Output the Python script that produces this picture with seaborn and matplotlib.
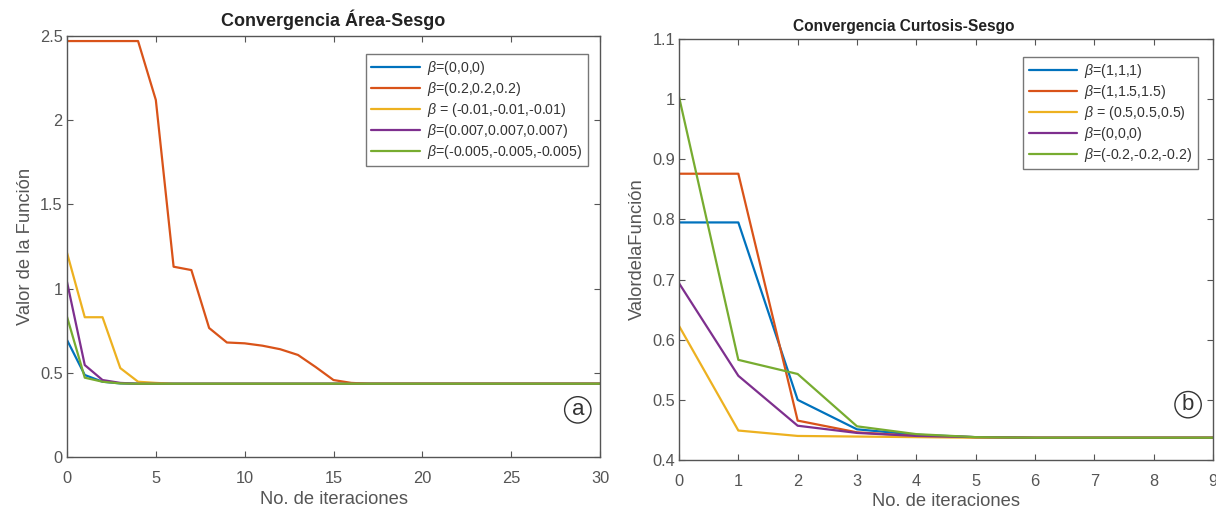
import numpy as np
import pandas as pd
import matplotlib
matplotlib.use("Agg")
import matplotlib.pyplot as plt
import seaborn as sns

# ---------------- data ----------------
iters_a = list(range(0, 31))
a_beta_000 = [0.695, 0.487, 0.447, 0.437] + [0.435] * 27
a_beta_02 = [2.47, 2.47, 2.47, 2.47, 2.47, 2.12, 1.13, 1.11, 0.766, 0.68,
             0.675, 0.661, 0.64, 0.606, 0.534, 0.457, 0.44] + [0.435] * 14
a_beta_m001 = [1.213, 0.83, 0.83, 0.528, 0.447, 0.44] + [0.435] * 25
a_beta_0007 = [1.04, 0.546, 0.457, 0.44] + [0.435] * 27
a_beta_m0005 = [0.833, 0.471, 0.447, 0.437] + [0.435] * 27
labels_a = [r"$\beta$=(0,0,0)", r"$\beta$=(0.2,0.2,0.2)",
            r"$\beta$ = (-0.01,-0.01,-0.01)", r"$\beta$=(0.007,0.007,0.007)",
            r"$\beta$=(-0.005,-0.005,-0.005)"]

iters_b = list(range(0, 10))
b_beta_111 = [0.795, 0.795, 0.500, 0.451, 0.442, 0.438, 0.437, 0.437, 0.437, 0.437]
b_beta_1_15 = [0.876, 0.876, 0.4655, 0.446, 0.44, 0.438, 0.437, 0.437, 0.437, 0.437]
b_beta_05 = [0.623, 0.449, 0.440, 0.439, 0.438, 0.437, 0.437, 0.437, 0.437, 0.437]
b_beta_000 = [0.694, 0.540, 0.457, 0.445, 0.44, 0.438, 0.437, 0.437, 0.437, 0.437]
b_beta_m02 = [1.004, 0.5665, 0.543, 0.456, 0.443, 0.438, 0.437, 0.437, 0.437, 0.437]
labels_b = [r"$\beta$=(1,1,1)", r"$\beta$=(1,1.5,1.5)", r"$\beta$ = (0.5,0.5,0.5)",
            r"$\beta$=(0,0,0)", r"$\beta$=(-0.2,-0.2,-0.2)"]

colors = ["#0072BD", "#D95319", "#EDB120", "#7E2F8E", "#77AC30"]

# ---------------- style ----------------
sns.set_theme(style="white")
plt.rcParams["font.family"] = ["Liberation Sans", "DejaVu Sans"]
plt.rcParams["mathtext.fontset"] = "custom"
plt.rcParams["mathtext.it"] = "Liberation Sans:italic"
plt.rcParams["mathtext.rm"] = "Liberation Sans"

gray = "#555555"

fig = plt.figure(figsize=(12.16, 5.11), dpi=100)
W, H = 1216, 511
ax1 = fig.add_axes([67 / W, 1 - 457 / H, (600 - 67) / W, (457 - 36) / H])
ax2 = fig.add_axes([679 / W, 1 - 460 / H, (1213 - 679) / W, (460 - 39) / H])


def long_df(x, series, labels):
    rows = []
    for s, lab in zip(series, labels):
        for xi, yi in zip(x, s):
            rows.append({"it": xi, "val": yi, "serie": lab})
    return pd.DataFrame(rows)


df_a = long_df(iters_a, [a_beta_000, a_beta_02, a_beta_m001, a_beta_0007, a_beta_m0005], labels_a)
df_b = long_df(iters_b, [b_beta_111, b_beta_1_15, b_beta_05, b_beta_000, b_beta_m02], labels_b)

sns.lineplot(data=df_a, x="it", y="val", hue="serie", palette=colors, ax=ax1,
             linewidth=1.6, hue_order=labels_a)
sns.lineplot(data=df_b, x="it", y="val", hue="serie", palette=colors, ax=ax2,
             linewidth=1.6, hue_order=labels_b)


def style_axes(ax):
    for sp in ax.spines.values():
        sp.set_visible(True)
        sp.set_color(gray)
        sp.set_linewidth(1.0)
    ax.tick_params(direction="in", length=4, width=0.8, color=gray,
                   labelcolor=gray, labelsize=11.8, top=True, right=True,
                   bottom=True, left=True)
    ax.tick_params(axis="x", pad=10)
    ax.tick_params(axis="y", pad=3)


def fmt(v):
    return f"{v:g}"


# Left axes
ax1.set_xlim(0, 30)
ax1.set_ylim(0, 2.5)
ax1.set_xticks([0, 5, 10, 15, 20, 25, 30])
yt1 = [0, 0.5, 1, 1.5, 2, 2.5]
ax1.set_yticks(yt1)
ax1.set_yticklabels([fmt(v) for v in yt1])
ax1.set_xlabel("No. de iteraciones", fontsize=13.2, color=gray, labelpad=4)
ax1.set_ylabel("Valor de la Función", fontsize=13.2, color=gray, labelpad=4)
ax1.set_title("Convergencia Área-Sesgo", fontsize=13, fontweight="bold", pad=7,
              color="#222222")
style_axes(ax1)
leg1 = ax1.legend(loc="upper right", fontsize=10.2, frameon=True, fancybox=False,
                  edgecolor=gray, handlelength=3.4, borderpad=0.4,
                  labelspacing=0.2, handletextpad=0.5,
                  bbox_to_anchor=(0.99, 0.975))
for t in leg1.get_texts():
    t.set_color("#333333")
leg1.get_frame().set_linewidth(1.0)
ax1.text(28.75, 0.28, "a", fontsize=16, ha="center", va="center", color="#333333",
         bbox=dict(boxstyle="circle,pad=0.12", fc="white", ec="#333333", lw=1.0))

# Right axes
ax2.set_xlim(0, 9)
ax2.set_ylim(0.4, 1.1)
ax2.set_xticks(list(range(0, 10)))
yt2 = [0.4, 0.5, 0.6, 0.7, 0.8, 0.9, 1.0, 1.1]
ax2.set_yticks(yt2)
ax2.set_yticklabels([fmt(v) for v in yt2])
ax2.set_xlabel("No. de iteraciones", fontsize=13.2, color=gray, labelpad=3)
ax2.set_ylabel("ValordelaFunción", fontsize=13.2, color=gray, labelpad=4)
ax2.set_title("Convergencia Curtosis-Sesgo", fontsize=11.2, fontweight="bold", pad=6,
              color="#222222", x=0.42)
style_axes(ax2)
leg2 = ax2.legend(loc="upper right", fontsize=10.2, frameon=True, fancybox=False,
                  edgecolor=gray, handlelength=3.4, borderpad=0.4,
                  labelspacing=0.2, handletextpad=0.5,
                  bbox_to_anchor=(0.985, 0.975))
for t in leg2.get_texts():
    t.set_color("#333333")
leg2.get_frame().set_linewidth(1.0)
ax2.text(8.58, 0.492, "b", fontsize=16, ha="center", va="center", color="#333333",
         bbox=dict(boxstyle="circle,pad=0.12", fc="white", ec="#333333", lw=1.0))

fig.savefig("out.png", dpi=100)
